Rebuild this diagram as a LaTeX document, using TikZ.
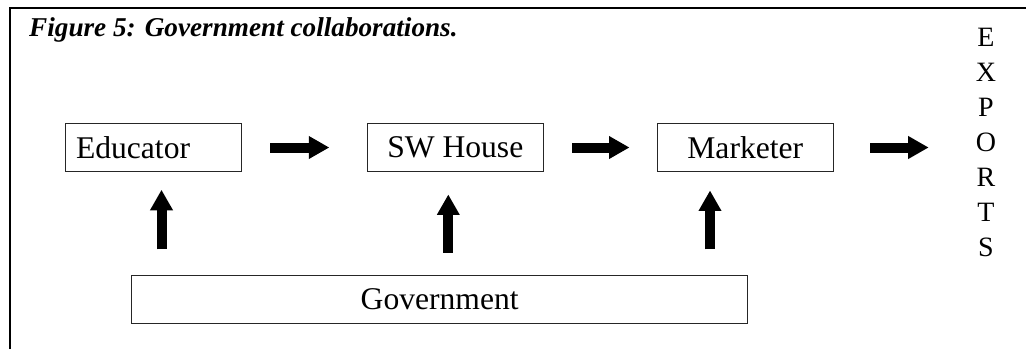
\documentclass[tikz,border=0pt]{standalone}
\usepackage{fontspec}
\setmainfont{Liberation Serif}
\usetikzlibrary{arrows.meta}
\begin{document}
\begin{tikzpicture}[x=1pt,y=-1pt,
  box/.style={draw=black!85, line width=0.9pt, minimum height=48.4pt,
    inner sep=0pt, font=\fontsize{31.6}{36}\selectfont},
  fatarrow/.style={line width=10pt, -{Triangle[length=20.5pt,width=21.5pt]}},
  frame/.style={line width=2pt}]
\useasboundingbox (0,0) rectangle (1026,349);
% open frame: left and top edges
\draw[frame] (10,349) -- (10,8.3) -- (1026,8.3);
% caption
\node[font=\fontsize{27.2}{30}\selectfont\bfseries\itshape, anchor=base west,
  inner sep=0pt] (title) at (29,36) {Figure 5: Government collaborations.};
% chain of actors
\node[box, minimum width=176.4pt, text width=155pt, align=left] (edu) at (153.5,147.5) {Educator};
\node[box, minimum width=176pt] (sw) at (455.3,147.5) {SW House};
\node[box, minimum width=176pt] (mk) at (745.3,147.5) {Marketer};
\node[box, minimum width=616pt] (gov) at (439.7,299.5) {Government};
% vertical label
\node[font=\fontsize{28}{35}\selectfont, align=center, inner sep=0pt, anchor=north]
  (exp) at (986,28.3) {E\\X\\P\\O\\R\\T\\S};
% flow to the right
\draw[fatarrow, shorten <=28.3pt, shorten >=37.5pt] (edu) -- (sw);
\draw[fatarrow, shorten <=28.4pt, shorten >=27.3pt] (sw) -- (mk);
\draw[fatarrow, shorten <=36.7pt, shorten >=47pt] (mk.east) -- (mk.east -| exp.west);
% support from the government
\coordinate (a1) at (161.5,0);
\coordinate (a2) at (448.3,0);
\coordinate (a3) at (710,0);
\draw[fatarrow, shorten <=25.5pt, shorten >=17.6pt] (gov.north -| a1) -- (edu.south -| a1);
\draw[fatarrow, shorten <=22.2pt, shorten >=22.3pt] (gov.north -| a2) -- (sw.south -| a2);
\draw[fatarrow, shorten <=25.5pt, shorten >=18.3pt] (gov.north -| a3) -- (mk.south -| a3);
\end{tikzpicture}
\end{document}
